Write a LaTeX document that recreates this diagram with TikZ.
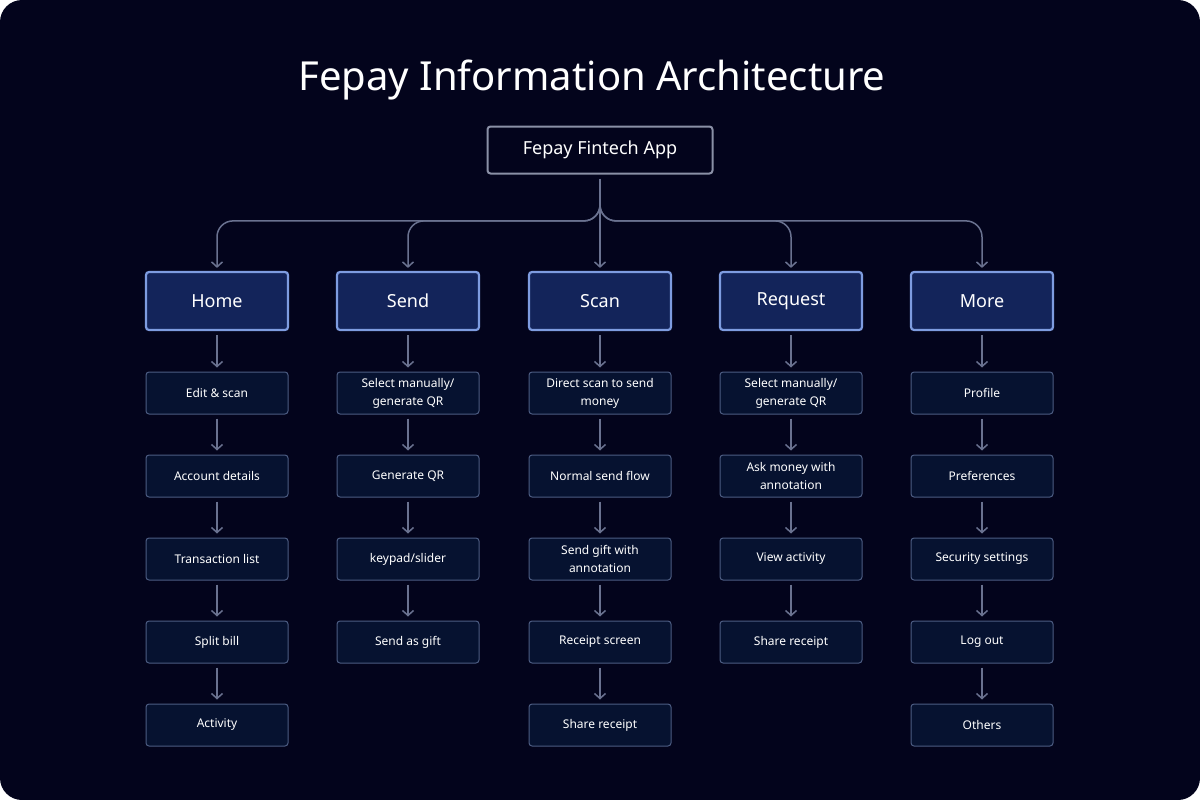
\documentclass[tikz,border=0pt]{standalone}
\usepackage{fontspec}
\setmainfont{Noto Sans}
\usetikzlibrary{arrows.meta}
\definecolor{bgc}{HTML}{03041C}
\definecolor{topb}{HTML}{8A90A6}
\definecolor{catf}{HTML}{13245A}
\definecolor{catb}{HTML}{7E9CE0}
\definecolor{chf}{HTML}{061230}
\definecolor{chb}{HTML}{4C5C82}
\definecolor{arr}{HTML}{6A7290}
\begin{document}
\begin{tikzpicture}[x=1pt,y=-1pt,
  cat/.style={draw=catb,fill=catf,line width=2.2pt,rounded corners=3pt,minimum width=142pt,minimum height=58pt,text=white,font=\fontsize{18}{20}\selectfont},
  ch/.style={draw=chb,fill=chf,line width=1pt,rounded corners=3pt,minimum width=142pt,minimum height=42pt,text=white,align=center,font=\fontsize{12}{18}\selectfont},
  topn/.style={draw=topb,fill=bgc,line width=2pt,rounded corners=3pt,minimum width=225pt,minimum height=47pt,text=white,font=\fontsize{18}{20}\selectfont},
  ar/.style={draw=arr,line width=1.5pt,-{Straight Barb[length=5pt,width=11pt]}},
  br/.style={ar,rounded corners=16pt}]
\fill[white] (0,0) rectangle (1200,800);
\fill[bgc,rounded corners=22pt] (0,0) rectangle (1200,800);
\useasboundingbox (0,0) rectangle (1200,800);
\node[text=white,font=\fontsize{40}{44}\selectfont] (title) at (592,80) {Fepay Information Architecture};
\node[topn] (top) at (600,150) {Fepay Fintech App};
\coordinate (jn) at (600,195);
\foreach \n/\x/\t in {c1/217/Home,c2/408/Send,c3/600/Scan,c4/791/Request,c5/982/More}{
  \node[cat] (\n) at (\x,301) {\t};
}
\draw[ar,shorten >=3pt,shorten <=4pt] (top.south) -- (c3.north);
\foreach \n in {c1,c2,c4,c5}{
  \draw[br,shorten >=3pt] (jn) |- ([yshift=50pt]\n.north) -- (\n.north);
}
\foreach \col/\x/\items in {
 1/217/{Edit \& scan,Account details,Transaction list,Split bill,Activity},
 2/408/{Select manually/\\generate QR,Generate QR,keypad/slider,Send as gift},
 3/600/{Direct scan to send\\money,Normal send flow,Send gift with\\annotation,Receipt screen,Share receipt},
 4/791/{Select manually/\\generate QR,Ask money with\\annotation,View activity,Share receipt},
 5/982/{Profile,Preferences,Security settings,Log out,Others}}{
  \foreach \it [count=\i] in \items {
    \node[ch] (n\col-\i) at (\x,{393+83*(\i-1)}) {\it};
  }
}
\foreach \col/\m in {1/5,2/4,3/5,4/4,5/5}{
  \draw[ar,shorten >=4pt,shorten <=4pt] (c\col.south) -- (n\col-1.north);
  \foreach \i [evaluate=\i as \j using int(\i+1)] in {1,...,\m}{
    \ifnum\i<\m
      \draw[ar,shorten >=4pt,shorten <=4pt] (n\col-\i.south) -- (n\col-\j.north);
    \fi
  }
}
\end{tikzpicture}
\end{document}
